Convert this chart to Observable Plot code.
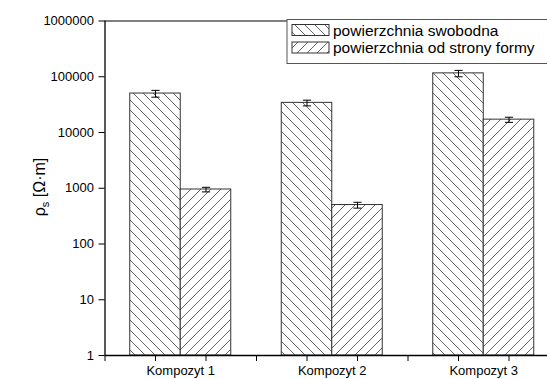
<!DOCTYPE html>
<html>
<head>
<meta charset="utf-8">
<script src="https://cdn.jsdelivr.net/npm/d3@7"></script>
<script src="https://cdn.jsdelivr.net/npm/@observablehq/plot@0.6"></script>
<style>
  html, body { margin: 0; padding: 0; background: #fff; }
  #chart svg { overflow: hidden; }
</style>
</head>
<body>
<div id="chart"></div>
<script>
const categories = ["Kompozyt 1", "Kompozyt 2", "Kompozyt 3"];
const seriesNames = ["powierzchnia swobodna", "powierzchnia od strony formy"];
const valuesFree = [50000, 34000, 115000];
const errorsFree = [7000, 4000, 15000];
const valuesMold = [950, 500, 17000];
const errorsMold = [90, 60, 1800];
const yTicks = [1, 10, 100, 1000, 10000, 100000, 1000000];

const data = [];
categories.forEach((c, i) => {
  data.push({cat: c, s: 0, x1: i + 1/6, x2: i + 1/2, xc: i + 1/3, v: valuesFree[i], e: errorsFree[i]});
  data.push({cat: c, s: 1, x1: i + 1/2, x2: i + 5/6, xc: i + 2/3, v: valuesMold[i], e: errorsMold[i]});
});
const capW = 0.027;
const xTickVals = [];
for (let i = 0; i <= 3; i++) { xTickVals.push(i); if (i < 3) { xTickVals.push(i + 1/3, i + 2/3); } }

const font = "'Liberation Sans', Arial, sans-serif";

const plot = Plot.plot({
  width: 547,
  height: 379,
  marginLeft: 104.5,
  marginRight: -12,
  marginTop: 20.5,
  marginBottom: 24,
  style: {fontFamily: font, fontSize: "13px", color: "#000", background: "#fff"},
  x: {type: "linear", domain: [0, 3], range: [104.5, 559], axis: null},
  y: {type: "log", domain: [1, 1e6], range: [355, 20.5], axis: null},
  marks: [
    Plot.rect(data, {x1: "x1", x2: "x2", y1: 1, y2: "v",
      fill: d => d.s === 0 ? "url(#hatchA)" : "url(#hatchB)",
      stroke: "#333", strokeWidth: 1}),
    Plot.link(data, {x1: "xc", x2: "xc", y1: d => d.v - d.e, y2: d => d.v + d.e, stroke: "#000", strokeWidth: 1}),
    Plot.link(data, {x1: d => d.xc - capW, x2: d => d.xc + capW, y1: d => d.v + d.e, y2: d => d.v + d.e, stroke: "#000", strokeWidth: 1}),
    Plot.link(data, {x1: d => d.xc - capW, x2: d => d.xc + capW, y1: d => d.v - d.e, y2: d => d.v - d.e, stroke: "#000", strokeWidth: 1}),
    Plot.ruleY([1e6], {x1: 0, x2: 3, stroke: "#000", strokeWidth: 1}),
    Plot.ruleY([1], {x1: 0, x2: 3, stroke: "#000", strokeWidth: 1.3}),
    Plot.ruleX([0], {y1: 1, y2: 1e6, stroke: "#000", strokeWidth: 1.3}),
    Plot.axisY({anchor: "left", label: null, ticks: yTicks, tickSize: 6, tickPadding: 5, tickFormat: d => String(d), fontSize: 13, stroke: "#000"}),
    Plot.axisX({anchor: "bottom", label: null, ticks: xTickVals, tickSize: 6, tickFormat: () => "", stroke: "#000"}),
    Plot.axisX({anchor: "bottom", label: null, ticks: categories.map((c, i) => i + 0.5), tickSize: 0, tickPadding: 10,
      tickFormat: v => categories[Math.round(v - 0.5)], fontSize: 13})
  ]
});

const svg = d3.select(plot);
const defs = svg.insert("defs", ":first-child");
const pa = defs.append("pattern").attr("id", "hatchA").attr("patternUnits", "userSpaceOnUse")
  .attr("width", 10).attr("height", 10);
pa.append("rect").attr("width", 10).attr("height", 10).attr("fill", "#fff");
pa.append("path").attr("d", "M0,0L10,10M-1,9L1,11M9,-1L11,1").attr("stroke", "#666").attr("stroke-width", 1);
const pb = defs.append("pattern").attr("id", "hatchB").attr("patternUnits", "userSpaceOnUse")
  .attr("width", 10).attr("height", 10);
pb.append("rect").attr("width", 10).attr("height", 10).attr("fill", "#fff");
pb.append("path").attr("d", "M0,10L10,0M-1,1L1,-1M9,11L11,9").attr("stroke", "#666").attr("stroke-width", 1);

// y-axis title
const yt = svg.append("text")
  .attr("transform", "translate(45,187) rotate(-90)")
  .attr("text-anchor", "middle")
  .attr("font-family", font)
  .attr("font-size", 16)
  .attr("fill", "#000");
yt.append("tspan").text("ρ");
yt.append("tspan").attr("font-size", 11).attr("dy", 4).text("s");
yt.append("tspan").attr("dy", -4).text(" [Ω·m]");

// legend (inside plot area, top right)
const lg = svg.append("g").attr("font-family", font).attr("font-size", 15.5).attr("text-anchor", "start");
lg.append("rect").attr("x", 287).attr("y", 19.5).attr("width", 300).attr("height", 44)
  .attr("fill", "#fff").attr("stroke", "#555").attr("stroke-width", 1);
seriesNames.forEach((name, i) => {
  const y0 = 24.5 + i * 17.5;
  lg.append("rect").attr("x", 292).attr("y", y0).attr("width", 37).attr("height", 11)
    .attr("fill", i === 0 ? "url(#hatchA)" : "url(#hatchB)").attr("stroke", "#333").attr("stroke-width", 1);
  lg.append("text").attr("x", 333).attr("y", y0 + 11).attr("fill", "#000").text(name);
});

document.getElementById("chart").appendChild(plot);
</script>
</body>
</html>
